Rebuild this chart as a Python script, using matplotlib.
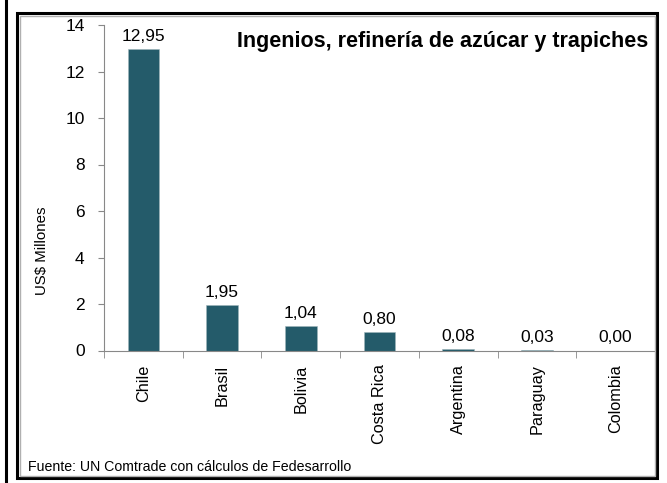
import matplotlib.pyplot as plt
from matplotlib.patches import Rectangle
from matplotlib.lines import Line2D
import numpy as np

plt.rcParams['font.family'] = ['Liberation Sans', 'DejaVu Sans']

paises = ['Chile', 'Brasil', 'Bolivia', 'Costa Rica', 'Argentina', 'Paraguay', 'Colombia']
valores = [12.95, 1.95, 1.04, 0.80, 0.08, 0.03, 0.00]
titulo = 'Ingenios, refinería de azúcar y trapiches'
fuente = 'Fuente: UN Comtrade con cálculos de Fedesarrollo'

W, H = 667, 483
fig = plt.figure(figsize=(W / 100, H / 100), dpi=100)

# marco exterior y linea izquierda
fig.add_artist(Line2D([6 / W, 6 / W], [0, 1], color='black', lw=2.2))
fig.add_artist(Rectangle((17 / W, 5 / H), 640 / W, 465 / H, fill=False,
                         edgecolor='black', lw=2.2))
fig.add_artist(Rectangle((19.5 / W, 7.5 / H), 635.5 / W, 460 / H, fill=False,
                         edgecolor='#b0b0b0', lw=1))

ax = fig.add_axes([104 / W, (H - 350.5) / H, (655 - 104) / W, (350.5 - 25) / H])
x = np.arange(len(paises))
ax.bar(x, valores, width=0.4, color='#245B6A', edgecolor='#9fb5bb', linewidth=0.4)

for xi, v in zip(x, valores):
    ax.text(xi, v + 0.22, f'{v:.2f}'.replace('.', ','), ha='center', va='bottom',
            fontsize=12.5)

ax.set_xlim(-0.5, len(paises) - 0.5)
ax.set_ylim(0, 14)
ax.set_yticks(range(0, 15, 2))
ax.tick_params(axis='y', direction='out', length=4, color='#888888', labelsize=12.5, pad=10)
ax.set_xticks(x)
ax.set_xticklabels(paises, rotation=90, fontsize=11.7)
ax.tick_params(axis='x', length=0, pad=10)
ax.set_xticks(np.arange(-0.5, len(paises), 1), minor=True)
ax.tick_params(axis='x', which='minor', direction='out', length=5, color='#888888')

for s in ['top', 'right']:
    ax.spines[s].set_visible(False)
for s in ['left', 'bottom']:
    ax.spines[s].set_color('#888888')

ax.set_ylabel('US$ Millones', fontsize=10.8)
ax.yaxis.set_label_coords(-0.1, 0.306)
ax.text(0.987, 0.948, titulo, transform=ax.transAxes, ha='right', va='center',
        fontsize=15.5, fontweight='bold')
fig.text(28 / W, (H - 467) / H, fuente, fontsize=10.2, va='center', ha='left')

fig.savefig('out.png', dpi=100)
